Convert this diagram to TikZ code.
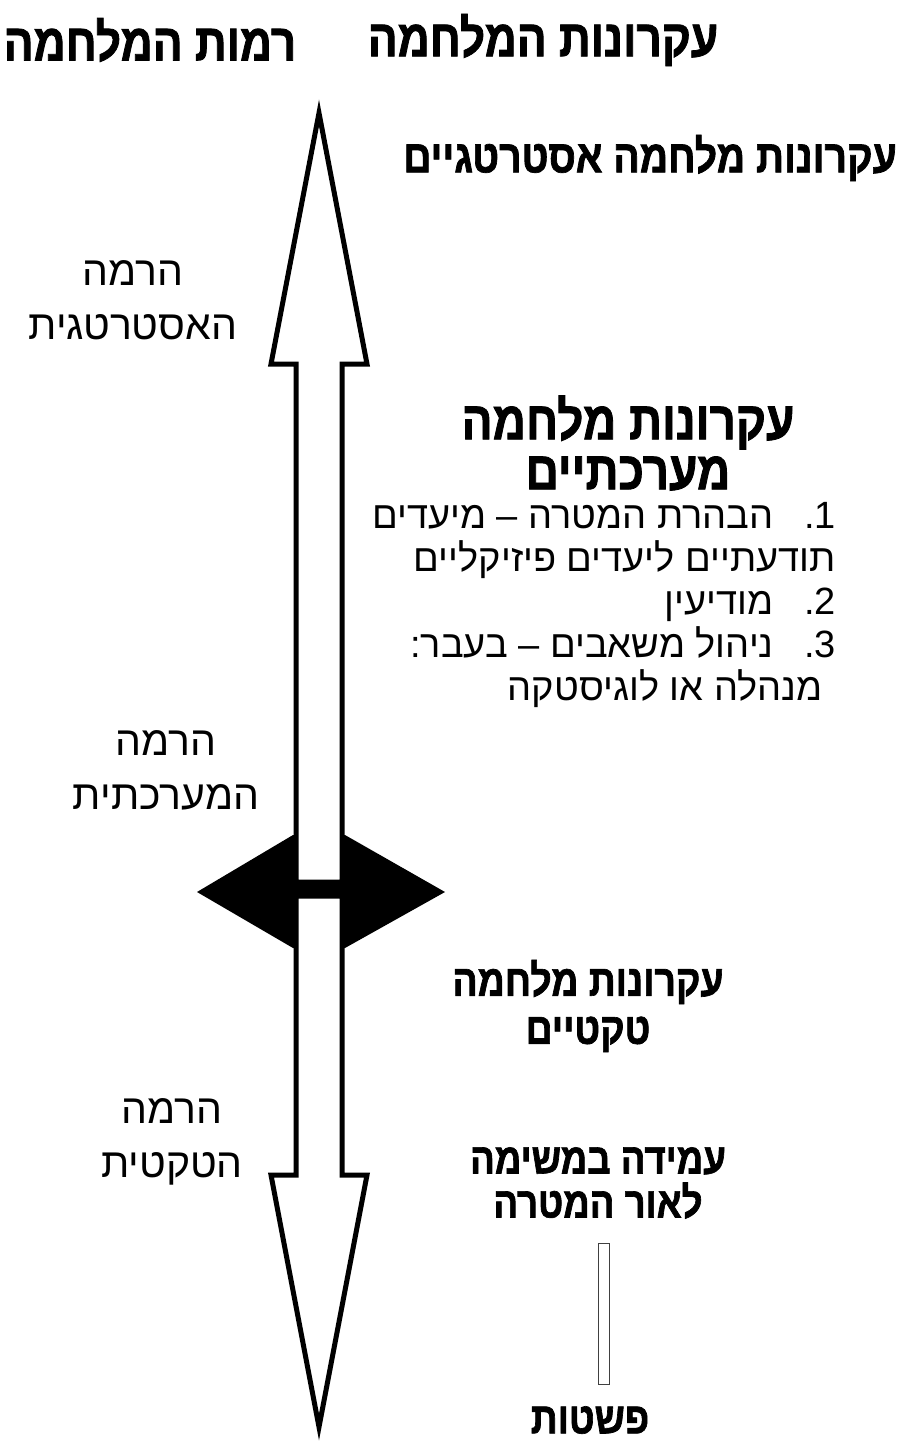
\documentclass[tikz,border=0pt]{standalone}
\usepackage{fontspec}
\newfontfamily\hebfont[Script=Hebrew]{Liberation Sans}
\newfontfamily\hebbold[Script=Hebrew,FakeStretch=0.85,FakeBold=1.5]{Liberation Sans Bold}
\TeXXeTstate=1
\usetikzlibrary{positioning}
\tikzstyle{war.head} = [font=\hebbold\fontsize{52}{56}\selectfont, inner sep=0pt]
\tikzstyle{war.level} = [font=\hebfont\fontsize{41}{54}\selectfont, align=center, inner sep=0pt]
\tikzstyle{war.principle} = [font=\hebbold\fontsize{44}{48}\selectfont, align=center, inner sep=0pt]
\tikzstyle{war.list} = [font=\hebfont\fontsize{38}{43}\selectfont, align=right, inner sep=0pt]
\tikzstyle{war.arrow} = [draw=black, fill=white, line width=5pt]
\tikzstyle{war.bar} = [draw=black!75, line width=1pt, minimum width=11pt, minimum height=141pt, inner sep=0pt]

\begin{document}
\begin{tikzpicture}[x=1pt, y=-1pt, node distance=6pt]
\useasboundingbox (0,0) rectangle (902,1444);

% column heads
\node[war.head] (levels) at (150,40) {\beginR רמות המלחמה\endR};
\node[war.head] (principles) at (543,40) {\beginR עקרונות המלחמה\endR};

% the double arrow
\fill[black] (197,892) -- (293,835) -- (345,835) -- (445,892) -- (345,948) -- (293,948) -- cycle;
\draw[war.arrow] (319,113) -- (367,364) -- (342,364) -- (342,882) -- (296,882) -- (296,364) -- (271,364) -- cycle;
\draw[war.arrow] (296,896) -- (342,896) -- (342,1175) -- (367,1175) -- (319,1427) -- (271,1175) -- (296,1175) -- cycle;

% levels
\node[war.level] (lvl_strat) at (133,300) {\beginR הרמה\endR\\\beginR האסטרטגית\endR};
\node[war.level] (lvl_oper) at (166,770) {\beginR הרמה\endR\\\beginR המערכתית\endR};
\node[war.level] (lvl_tact) at (172,1142) {\beginR הרמה\endR\\\beginR הטקטית\endR};

% principles
\node[war.head, anchor=east, font=\hebbold\fontsize{46}{50}\selectfont] (strat) at (897,158) {\beginR עקרונות מלחמה אסטרטגיים\endR};
\node[war.principle, font=\hebbold\fontsize{54}{50}\selectfont] (oper) at (628,443) {\beginR עקרונות מלחמה\endR\\\beginR מערכתיים\endR};
\node[war.list, anchor=north east] (oper_list) at (836,502) {%
\beginR\beginL 1.\endL{}\hspace{0.8em}הבהרת המטרה – מיעדים\endR\\
\beginR תודעתיים ליעדים פיזיקליים\endR\\
\beginR\beginL 2.\endL{}\hspace{0.8em}מודיעין\endR\\
\beginR\beginL 3.\endL{}\hspace{0.8em}ניהול משאבים – בעבר:\endR\\
\beginR\hspace*{0.35em}מנהלה או לוגיסטקה\endR};
\node[war.principle] (tact) at (588,1006) {\beginR עקרונות מלחמה\endR\\\beginR טקטיים\endR};
\node[war.principle, font=\hebbold\fontsize{43}{44}\selectfont] (task) at (598,1183) {\beginR עמידה במשימה\endR\\\beginR לאור המטרה\endR};
\node[war.bar] (bar) at (603.5,1313.5) {};
\node[war.principle] (simple) at (590,1420) {\beginR פשטות\endR};
\end{tikzpicture}
\end{document}
